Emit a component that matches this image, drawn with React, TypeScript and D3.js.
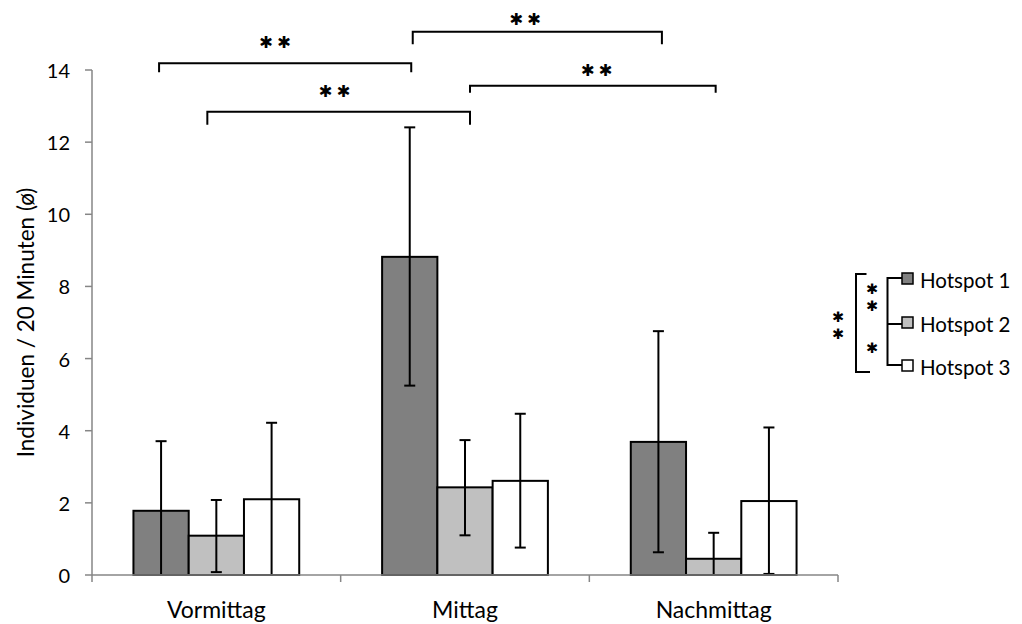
import React from "react";
import * as d3 from "d3";

// Mean individuals per 20 minutes, with error bar bounds
const categories = ["Vormittag", "Mittag", "Nachmittag"];
const series = ["Hotspot 1", "Hotspot 2", "Hotspot 3"];
const seriesColors = ["#808080", "#c0c0c0", "#ffffff"];

const hotspot1 = [1.78, 8.82, 3.69];
const hotspot2 = [1.09, 2.43, 0.45];
const hotspot3 = [2.1, 2.61, 2.05];

const hotspot1Upper = [3.71, 12.41, 6.76];
const hotspot1Lower = [-0.15, 5.25, 0.63];
const hotspot2Upper = [2.08, 3.74, 1.17];
const hotspot2Lower = [0.08, 1.1, -0.27];
const hotspot3Upper = [4.22, 4.47, 4.09];
const hotspot3Lower = [-0.02, 0.76, 0.03];

const yTicks = [0, 2, 4, 6, 8, 10, 12, 14];

// Significance brackets between groups (level in data units)
const brackets = [
  { from: ["Vormittag", "Hotspot 1"], to: ["Mittag", "Hotspot 1"], level: 14.19, drop: 9, dx: [-2, 1.5], label: "**", lx: -8, ly: 21 },
  { from: ["Mittag", "Hotspot 1"], to: ["Nachmittag", "Hotspot 1"], level: 15.06, drop: 12.5, dx: [3, 3.5], label: "**", lx: -10, ly: 12 },
  { from: ["Vormittag", "Hotspot 2"], to: ["Mittag", "Hotspot 2"], level: 12.84, drop: 13, dx: [-9, 5], label: "**", lx: -2, ly: 20 },
  { from: ["Mittag", "Hotspot 2"], to: ["Nachmittag", "Hotspot 2"], level: 13.56, drop: 7, dx: [5, 2], label: "**", lx: 6, ly: 15 },
];

const valueSets = [hotspot1, hotspot2, hotspot3];
const upperSets = [hotspot1Upper, hotspot2Upper, hotspot3Upper];
const lowerSets = [hotspot1Lower, hotspot2Lower, hotspot3Lower];

const FONT = "Lato, 'Open Sans', sans-serif";
const STAR_FONT = "'DejaVu Sans', sans-serif";

export default function App() {
  const W = 1022;
  const H = 624;
  const x0 = d3.scaleBand<string>().domain(categories).range([92, 838]).paddingInner(0).paddingOuter(0);
  const bw = x0.bandwidth();
  const x1 = d3.scaleBand<string>().domain(series).range([bw / 6, (bw * 5) / 6]).padding(0);
  const y = d3.scaleLinear().domain([0, 14]).range([575, 70]);
  const capW = 11;
  const center = (c: string, s: string) => (x0(c) as number) + (x1(s) as number) + x1.bandwidth() / 2;

  const legendY = [280, 324, 367];
  const connX = 887.5;

  // stacked significance marks next to the legend
  const legendStars = [
    { x: 838, y: 316.5 },
    { x: 838, y: 333.5 },
    { x: 872, y: 289 },
    { x: 872, y: 306 },
    { x: 872, y: 348 },
  ];

  return (
    <svg width={W} height={H} style={{ position: "absolute", left: 0, top: 0, background: "#fff" }} fontFamily={FONT}>
      <defs>
        <clipPath id="plot">
          <rect x={92} y={0} width={746} height={575} />
        </clipPath>
      </defs>

      {/* y axis */}
      <line x1={92} x2={92} y1={y(14)} y2={y(0)} stroke="#868686" strokeWidth={1.5} />
      {yTicks.map((t) => (
        <g key={t}>
          <line x1={85} x2={92} y1={y(t)} y2={y(t)} stroke="#868686" strokeWidth={1.5} />
          <text x={70} y={y(t)} textAnchor="end" dominantBaseline="central" fontSize={20} fill="#000">
            {t}
          </text>
        </g>
      ))}
      <text
        transform={`translate(25,${(y(0) + y(14)) / 2}) rotate(-90)`}
        textAnchor="middle"
        dominantBaseline="central"
        fontSize={22.5}
        fill="#000"
      >
        Individuen / 20 Minuten (ø)
      </text>

      {/* bars */}
      {series.map((s, si) =>
        categories.map((c, ci) => {
          const v = valueSets[si][ci];
          const bx = (x0(c) as number) + (x1(s) as number);
          return (
            <rect
              key={s + c}
              x={bx}
              y={y(v)}
              width={x1.bandwidth()}
              height={y(0) - y(v)}
              fill={seriesColors[si]}
              stroke="#000"
              strokeWidth={2}
            />
          );
        })
      )}

      {/* error bars */}
      <g clipPath="url(#plot)" stroke="#000" strokeWidth={2}>
        {series.map((s, si) =>
          categories.map((c, ci) => {
            const cx = center(c, s);
            const hi = upperSets[si][ci];
            const lo = lowerSets[si][ci];
            return (
              <g key={s + c}>
                <line x1={cx} x2={cx} y1={y(hi)} y2={y(lo)} />
                <line x1={cx - capW / 2} x2={cx + capW / 2} y1={y(hi)} y2={y(hi)} />
                <line x1={cx - capW / 2} x2={cx + capW / 2} y1={y(lo)} y2={y(lo)} />
              </g>
            );
          })
        )}
      </g>

      {/* x axis */}
      <line x1={92} x2={838} y1={y(0)} y2={y(0)} stroke="#868686" strokeWidth={1.5} />
      {[...categories.map((c) => x0(c) as number), 838].map((t, i) => (
        <line key={i} x1={t} x2={t} y1={y(0)} y2={y(0) + 7} stroke="#868686" strokeWidth={1.5} />
      ))}
      {categories.map((c) => (
        <text key={c} x={(x0(c) as number) + bw / 2} y={609} textAnchor="middle" dominantBaseline="central" fontSize={23} fill="#000">
          {c}
        </text>
      ))}

      {/* significance brackets */}
      {brackets.map((b, i) => {
        const xa = center(b.from[0], b.from[1]) + b.dx[0];
        const xb = center(b.to[0], b.to[1]) + b.dx[1];
        const yl = y(b.level);
        return (
          <g key={i}>
            <path d={`M${xa},${yl + b.drop}V${yl}H${xb}V${yl + b.drop}`} fill="none" stroke="#000" strokeWidth={2} />
            <text
              x={(xa + xb) / 2 + b.lx}
              y={yl - b.ly}
              textAnchor="middle"
              dominantBaseline="central"
              fontSize={16.5}
              fontFamily={STAR_FONT}
              letterSpacing={4}
            >
              {"\u2731\u2731"}
            </text>
          </g>
        );
      })}

      {/* legend with pairwise significance */}
      <path d={`M866.5,274H856V372H870`} fill="none" stroke="#000" strokeWidth={2} />
      <path d={`M902,${legendY[0] - 2}H${connX}V${legendY[2] - 2}H902M${connX - 1},${legendY[1]}H902`} fill="none" stroke="#000" strokeWidth={2} />
      {legendStars.map((p, i) => (
        <text key={i} x={p.x} y={p.y} textAnchor="middle" dominantBaseline="central" fontSize={14.5} fontFamily={STAR_FONT}>
          {"\u2731"}
        </text>
      ))}
      {series.map((s, i) => (
        <g key={s}>
          <rect x={902} y={legendY[i] - 7} width={11} height={11} fill={seriesColors[i]} stroke="#000" strokeWidth={1.5} />
          <text x={920} y={legendY[i]} dominantBaseline="central" fontSize={20.5} fill="#000">
            {s}
          </text>
        </g>
      ))}
    </svg>
  );
}
